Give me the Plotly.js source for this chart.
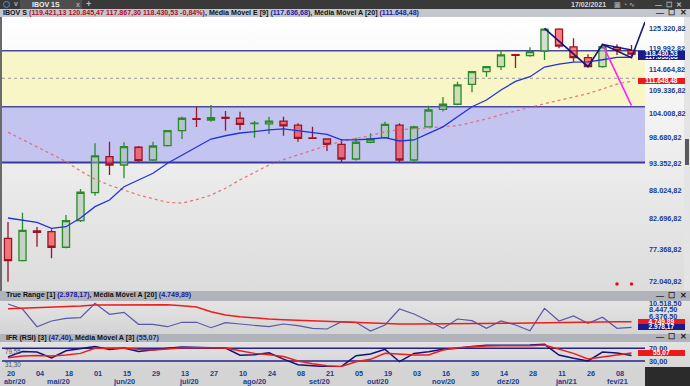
<!DOCTYPE html>
<html><head><meta charset="utf-8">
<script src="https://cdn.plot.ly/plotly-3.0.1.min.js"></script>
<style>
body{margin:0;width:690px;height:386px;overflow:hidden;background:#d6d6d6;font-family:"Liberation Sans",Arial,sans-serif;font-weight:bold;}
.a{position:absolute;white-space:nowrap;}
.strip{left:0;width:690px;background:#b0b4ba;font-size:7px;color:#111;}
.nv{color:#1a1aa0}.rd{color:#b0102a}
.ctl{font-size:8px;color:#222;}
</style></head><body>
<div class="a" style="left:0;top:0;width:690px;height:9px;background:#393939"></div>
<div class="a" style="left:20px;top:0;width:62px;height:9px;background:#4e4e4e"></div>
<div class="a" style="left:3px;top:1px;width:5px;height:5px;border:1.3px solid #3f95ea;border-radius:50%"></div>
<div class="a" style="left:14px;top:0px;font-size:7px;color:#aaa;line-height:8px">v</div>
<div class="a" style="left:32px;top:0px;font-size:7px;color:#f0f0f0;line-height:9px">IBOV 1S</div>
<div class="a" style="left:76px;top:0px;font-size:7px;color:#aaa;line-height:9px">x</div>
<div class="a" style="left:86px;top:-1px;font-size:9px;color:#bbb;line-height:10px">+</div>
<div class="a" style="left:571px;top:0px;font-size:7px;color:#d8d8d8;line-height:9px">17/02/2021</div>
<div class="a" style="left:614px;top:0px;font-size:7px;color:#999;line-height:9px">▣ ◔ ∿</div>
<div class="a" style="left:655px;top:0px;font-size:7px;color:#bbb;line-height:9px">—&nbsp;&nbsp;☐&nbsp;&nbsp;✕</div>

<div class="a strip" style="top:9px;height:8px;line-height:8px;background:#c3c7cd;font-size:7.1px"><span style="padding-left:3px">IBOV S </span><span class="rd">(119.421,13 120.845,47 117.867,30 118.430,53 -0,84%)</span>, Média Móvel E [9] <span class="nv">(117.636,68)</span>, Média Móvel A [20] <span class="nv">(111.648,48)</span></div>
<div class="a ctl" style="left:656px;top:8px;line-height:9px">—&nbsp;&nbsp;☐&nbsp;&nbsp;✕</div>

<div class="a" style="left:0;top:17px;width:690px;height:274px;background:linear-gradient(to bottom,#ffffff 0%,#ececec 55%,#dcdcdc 100%)"></div>
<div class="a" style="left:0;top:17px;width:2px;height:274px;background:#6a6a6a"></div>
<div class="a" style="left:684px;top:17px;width:6px;height:274px;background:#e4e4e4"></div>
<div class="a" style="left:685px;top:139px;width:4px;height:26px;background:#5a5a5a"></div>

<div class="a strip" style="top:291px;height:9.5px;line-height:9.5px;font-size:7.1px"><span style="padding-left:6px">True Range [1] </span><span class="nv">(2.978,17)</span>, Média Móvel A [20] <span class="nv">(4.749,89)</span></div>
<div class="a ctl" style="left:656px;top:291px;line-height:9px">—&nbsp;&nbsp;☐&nbsp;&nbsp;✕</div>
<div class="a" style="left:0;top:300.5px;width:690px;height:33px;background:linear-gradient(to bottom,#e4e4e4,#d4d4d4)"></div>
<div class="a strip" style="top:333.5px;height:8px;line-height:8px;font-size:7.1px"><span style="padding-left:6px">IFR (RSI) [3] </span><span class="nv">(47,40)</span>, Média Móvel A [3] <span class="nv">(55,07)</span></div>
<div class="a ctl" style="left:656px;top:333px;line-height:8px">—&nbsp;&nbsp;☐&nbsp;&nbsp;✕</div>
<div class="a" style="left:0;top:341.5px;width:690px;height:25.5px;background:linear-gradient(to bottom,#e2e2e2,#d6d6d6)"></div>
<div class="a" style="left:0;top:367px;width:690px;height:19px;background:#d4d4d4"></div>
<div class="a" style="left:645px;top:367px;width:45px;height:19px;background:#2b2b2b"></div>

<div id="chart" class="a" style="left:0;top:0;width:690px;height:386px"></div>
<script>
// ---- data ----
const dates = ["2020-04-20","2020-04-27","2020-05-04","2020-05-11","2020-05-18","2020-05-25","2020-06-01","2020-06-08","2020-06-15","2020-06-22","2020-06-29","2020-07-06","2020-07-13","2020-07-20","2020-07-27","2020-08-03","2020-08-10","2020-08-17","2020-08-24","2020-08-31","2020-09-08","2020-09-14","2020-09-21","2020-09-28","2020-10-05","2020-10-13","2020-10-19","2020-10-26","2020-11-03","2020-11-09","2020-11-16","2020-11-23","2020-11-30","2020-12-07","2020-12-14","2020-12-21","2020-12-28","2021-01-04","2021-01-11","2021-01-18","2021-01-26","2021-02-01","2021-02-08","2021-02-17"];
const openP  = [79200,75450,80500,80360,77680,82320,87510,94670,92970,96640,93990,96970,100200,102900,102570,103150,102960,101760,101720,102340,101430,98650,98400,97270,94190,97700,98680,101430,93990,101050,105000,106160,110890,113990,115240,118300,118050,119210,125100,120350,117530,115240,120200,119421.13];
const highP  = [82100,83770,81190,80780,83350,88220,97480,97820,97700,96900,97820,100350,103320,105590,106000,104600,104440,102340,103320,103320,101820,101050,98450,98400,98680,99630,102190,101820,101300,105840,107870,111520,114160,115400,119520,118350,120220,125320.82,125300,122600,118400,120500,121000,120845.47];
const lowP   = [72040.82,75300,77780,75820,77500,82100,86940,90960,90310,93580,93800,96800,98400,100990,102200,100200,100350,98680,99480,99110,97820,98400,95850,93520,93900,97480,98500,93520,93700,100900,104500,105900,108960,112750,114410,114900,117800,116940,120000,116500,115100,115000,118230,117867.30];
const closeP = [75450,80600,80260,77680,82320,87590,94820,92970,96760,93850,96910,100200,102960,102700,103100,102950,101600,101880,102340,101270,98550,98550,97270,94190,97700,98400,101600,93990,101050,104840,106160,110730,113990,115240,118230,118100,119080,125100,120550,117530,115240,120370,119430,118430.53];
const ema9   = [82800,82350,82030,80960,81240,82800,84880,86120,88660,89970,91300,93320,95030,96700,98400,99100,99700,100000,100400,100600,100250,99900,99400,98190,98190,98400,98680,97970,98190,99630,101050,103300,105590,107150,109520,111600,112750,115150,115900,116400,116480,117000,117600,117636.68];
const sma20  = [99855,98290,96740,95230,93680,91740,90130,88950,87970,87070,86360,85700,85530,86200,87050,88360,90000,91480,92960,94070,95070,96063,97000,97910,98530,99140,99940,100440,100590,100760,101070,101300,102000,102800,103750,104610,105510,106290,107060,107870,108650,109760,110940,111648.48];
const trueRange = [10300,8730,3175,4964,5811,6000,10518.5,7067,7694,3928,3928,3175,4556,4556,2862,4430,4022,3708,3175,4022,3489,2673,2454,4745,4556,1826,3709,8730,7160,4964,2673,5592,5058,2673,4964,3709,1920,8950,4964,6533,4242,6125,2673,2978.17];
const trMa20 = [8824,8950,9106,9263,9420,9671,9985,10048,10079,10142,10205,10079,9765,9357,7883,6847,6314,5905,5592,5372,5184,4964,4744,4650,4556,4242,4022,4022,4022,4022,4022,4022,4022,4117,4117,4242,4336,4430,4556,4650,4650,4744,4744,4749.89];
const rsi3   = [43,60,58,40,62,70,76,66,71,60,66,70,74,72,72,71,48,50,56,36,18,15,12,13,46.7,52,66.7,27.8,54,59.3,66.7,70,76,79.4,79.4,80.4,80.4,82.6,48.9,38.4,30,58,55,47.40];
const rsiMa3 = [40,46,47,46,49,54,70,70,70,67,65,68,72,72,72,71,62,54,50,44,30,21,15,13,27.8,35.2,54.1,51,48.9,48.9,64.6,71.9,75,77.2,78.3,77.2,78.3,80.4,67.8,54.1,36.3,42,47,55.07];
// drawings on the price chart (candle index, price)
const waveX = [37,40,41,43,43.93], waveY = [125320,115244,121000,117530,127060];
const wedgeX = [41,43], wedgeY = [121000,119519];
const magX = [41,43], magY = [121000,105840];
const dotX = [42,43], dotY = [71690,71690];
const zoneLevels = [119340,112350,105600,93480]; // top, mid (dotted), boundary, bottom
// axis labels
const priceTicks = [125320.82,119992.82,114664.82,109336.82,104008.82,98680.82,93352.82,88024.82,82696.82,77368.82,72040.82];
const priceTickText = ["125.320,82","119.992,82","114.664,82","109.336,82","104.008,82","98.680,82","93.352,82","88.024,82","82.696,82","77.368,82","72.040,82"];
const trTicks = [10518.5,8447.5,6376.5];
const trTickText = ["10.518,50","8.447,50","6.376,50"];
const rsiTicks = [70,30];
const rsiTickText = ["70,00","30,00"];
const rsiSideLabels = ["79,55","31,30"];
const monthNames = ["jan","fev","mar","abr","mai","jun","jul","ago","set","out","nov","dez"];

// ---- figure ----
const F = "Liberation Sans, Arial, sans-serif";
const W = 690, H = 386;
const px = v => v / W, py = v => 1 - v / H;
const xDom = [px(2), px(645)];
const idx = dates.map((d, i) => i);
const tickIdx = idx.filter(i => i % 2 === 0);
const tickTxt = tickIdx.map(i => dates[i].slice(8, 10));
const axFont = {family: F, size: 7.3, color: "#1c3c8c", weight: "bold"};

const traces = [
  {type: "candlestick", x: idx, open: openP, high: highP, low: lowP, close: closeP, xaxis: "x", yaxis: "y",
   increasing: {line: {color: "#2a8a2a", width: 1.3}, fillcolor: "rgba(165,195,165,0.5)"},
   decreasing: {line: {color: "#9a1428", width: 1.3}, fillcolor: "rgba(250,60,60,0.65)"},
   whiskerwidth: 0},
  {type: "scatter", mode: "lines", x: idx, y: sma20, yaxis: "y", line: {color: "rgba(228,95,95,0.85)", width: 1.2, dash: "dot"}},
  {type: "scatter", mode: "lines", x: idx, y: ema9, yaxis: "y", line: {color: "#2233dd", width: 1.3}},
  {type: "scatter", mode: "lines", x: magX, y: magY, yaxis: "y", line: {color: "#ff22ff", width: 1.6}},
  {type: "scatter", mode: "lines", x: waveX, y: waveY, yaxis: "y", line: {color: "#16167e", width: 1.6}},
  {type: "scatter", mode: "lines", x: wedgeX, y: wedgeY, yaxis: "y", line: {color: "#16167e", width: 1.4}},
  {type: "scatter", mode: "markers", x: dotX, y: dotY, yaxis: "y", marker: {color: "#e01010", size: 3.5}},
  {type: "scatter", mode: "lines", x: idx, y: trueRange, yaxis: "y2", line: {color: "#5858a8", width: 1.2}},
  {type: "scatter", mode: "lines", x: idx, y: trMa20, yaxis: "y2", line: {color: "#f01c1c", width: 1.5}},
  {type: "scatter", mode: "lines", x: idx, y: rsi3, yaxis: "y3", line: {color: "#14147a", width: 1.5}},
  {type: "scatter", mode: "lines", x: idx, y: rsiMa3, yaxis: "y3", line: {color: "#f01c1c", width: 1.5}}
];
traces.forEach(t => { t.showlegend = false; t.hoverinfo = "skip"; });

const shapes = [
  {type: "rect", xref: "paper", yref: "y", x0: xDom[0], x1: xDom[1], y0: zoneLevels[2], y1: zoneLevels[0], fillcolor: "#f8f6c6", line: {width: 0}, layer: "below"},
  {type: "rect", xref: "paper", yref: "y", x0: xDom[0], x1: xDom[1], y0: zoneLevels[3], y1: zoneLevels[2], fillcolor: "#c4c4f0", line: {width: 0}, layer: "below"},
  {type: "line", xref: "paper", yref: "y", x0: xDom[0], x1: xDom[1], y0: zoneLevels[1], y1: zoneLevels[1], line: {color: "#9c9c9c", width: 1, dash: "dot"}, layer: "below"},
  {type: "line", xref: "paper", yref: "y", x0: xDom[0], x1: xDom[1], y0: zoneLevels[0], y1: zoneLevels[0], line: {color: "#4848a0", width: 1.5}, layer: "below"},
  {type: "line", xref: "paper", yref: "y", x0: xDom[0], x1: xDom[1], y0: zoneLevels[2], y1: zoneLevels[2], line: {color: "#4848a0", width: 1.5}, layer: "below"},
  {type: "line", xref: "paper", yref: "y", x0: xDom[0], x1: xDom[1], y0: zoneLevels[3], y1: zoneLevels[3], line: {color: "#3a3a9a", width: 2}, layer: "below"},
  {type: "line", xref: "paper", yref: "y3", x0: xDom[0], x1: xDom[1], y0: rsiTicks[0], y1: rsiTicks[0], line: {color: "#22228a", width: 1.5}, layer: "below"},
  {type: "line", xref: "paper", yref: "y3", x0: xDom[0], x1: xDom[1], y0: rsiTicks[1], y1: rsiTicks[1], line: {color: "#22228a", width: 1.5}, layer: "below"}
];

function tag(yref, yv, text, bg) {
  return {xref: "paper", x: px(638), xanchor: "left", yref: yref, y: yv, yanchor: "middle", text: text, showarrow: false,
    bgcolor: bg, bordercolor: bg, borderwidth: 0, borderpad: 0, width: 47, height: 6, align: "center",
    font: {family: F, size: 6.6, color: "#ffffff", weight: "bold"}};
}
const last = dates.length - 1;
const annotations = [
  tag("y", Math.log10(ema9[last]), "117.636,68", "#1a1a8a"),
  tag("y", Math.log10(closeP[last]), "118.430,53", "#1a1a8a"),
  tag("y", Math.log10(sma20[last]), "111.648,48", "#ee1a1a"),
  tag("y2", trMa20[last], "4.749,89", "#ee1a1a"),
  tag("y2", trueRange[last], "2.978,17", "#1a1a8a"),
  tag("y3", rsiMa3[last], "55,07", "#ee1a1a"),
  {xref: "paper", yref: "paper", x: px(3), y: py(351.5), xanchor: "left", yanchor: "middle", showarrow: false, text: rsiSideLabels[0], font: {family: F, size: 6.3, color: "#4a5068"}},
  {xref: "paper", yref: "paper", x: px(3), y: py(364), xanchor: "left", yanchor: "middle", showarrow: false, text: rsiSideLabels[1], font: {family: F, size: 6.3, color: "#4a5068"}}
];
// month labels centred over the weeks that start in each month
const groups = {};
dates.forEach((d, i) => { const k = d.slice(0, 7); (groups[k] = groups[k] || []).push(i); });
Object.keys(groups).forEach(k => {
  const g = groups[k];
  annotations.push({xref: "x", yref: "paper", x: (g[0] + g[g.length - 1]) / 2, y: py(381), xanchor: "center", yanchor: "middle",
    showarrow: false, text: monthNames[+k.slice(5, 7) - 1] + "/" + k.slice(2, 4), font: axFont});
});

const yBase = {side: "right", anchor: "x", showgrid: false, zeroline: false, showline: false, ticks: "", tickfont: axFont, ticklabelstandoff: 3, fixedrange: true};
const layout = {
  width: W, height: H, margin: {l: 0, r: 0, t: 0, b: 0},
  paper_bgcolor: "rgba(0,0,0,0)", plot_bgcolor: "rgba(0,0,0,0)", showlegend: false,
  xaxis: {domain: xDom, range: [-0.4138, 43.931], anchor: "y3", tickmode: "array", tickvals: tickIdx, ticktext: tickTxt,
    ticks: "", showgrid: false, zeroline: false, showline: false, tickfont: axFont, ticklabelshift: 3, ticklabelstandoff: 1,
    rangeslider: {visible: false}, fixedrange: true},
  yaxis: Object.assign({}, yBase, {domain: [py(287), py(17)], type: "log", range: [4.852574, 5.108741], tickmode: "array", tickvals: priceTicks, ticktext: priceTickText}),
  yaxis2: Object.assign({}, yBase, {domain: [py(333.3), py(300.7)], range: [1104, 11334], tickmode: "array", tickvals: trTicks, ticktext: trTickText}),
  yaxis3: Object.assign({}, yBase, {domain: [py(367), py(341.7)], range: [11.1, 90.8], tickmode: "array", tickvals: rsiTicks, ticktext: rsiTickText}),
  shapes: shapes, annotations: annotations
};
Plotly.newPlot("chart", traces, layout, {displayModeBar: false, staticPlot: true});
</script>
</body></html>
